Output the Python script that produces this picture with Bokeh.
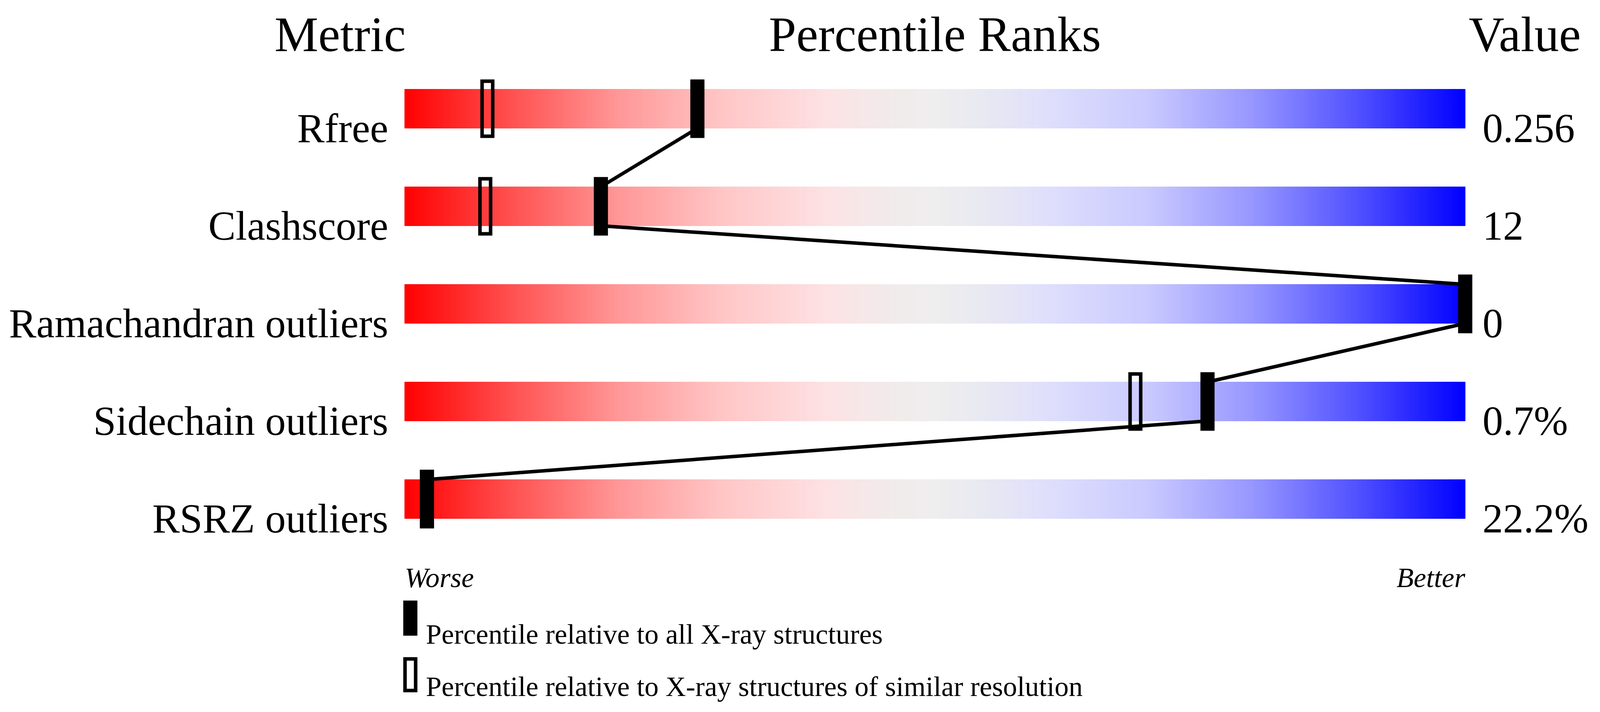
from bokeh.plotting import figure
from bokeh.models import Range1d, ColumnDataSource
from bokeh.core.properties import value
from bokeh.embed import file_html
from bokeh.resources import INLINE

# ---------------- data ----------------
metrics = ["Rfree", "Clashscore", "Ramachandran outliers", "Sidechain outliers", "RSRZ outliers"]
metric_values = ["0.256", "12", "0", "0.7%", "22.2%"]
pct_all_xray = [27.6, 18.5, 100, 75.7, 2.1]          # filled markers
pct_similar_res = [7.8, 7.6, 100, 68.9, 2.1]         # open markers (hidden where equal)
headers = ["Metric", "Percentile Ranks", "Value"]
scale_ends = ["Worse", "Better"]
legend_labels = ["Percentile relative to all X-ray structures",
                 "Percentile relative to X-ray structures of similar resolution"]

# gradient colour stops (styling)
grad_pos = [0, 10, 20, 30, 40, 45, 50, 55, 60, 70, 80, 90, 100]
grad_rgb = [(255, 0, 0), (255, 80, 80), (255, 150, 150), (255, 198, 198), (253, 226, 228),
            (242, 234, 234), (238, 238, 238), (232, 232, 242), (224, 224, 252),
            (202, 202, 255), (150, 150, 255), (80, 80, 255), (0, 0, 255)]

FONT = value("Liberation Serif")

def grad_color(t):
    for k in range(len(grad_pos) - 1):
        a, b = grad_pos[k], grad_pos[k + 1]
        if a <= t <= b:
            f = (t - a) / (b - a)
            c = [round(grad_rgb[k][j] + f * (grad_rgb[k + 1][j] - grad_rgb[k][j])) for j in range(3)]
            return "#%02x%02x%02x" % tuple(c)
    return "#%02x%02x%02x" % grad_rgb[-1]

# layout (horizontal scale chosen so the whole chart fits the visible page width)
S = 0.905
PX = 30 * S                       # screen px per percentile unit
W, H = 4090, 1808
X0 = -(1153 * S - 8) / PX
p = figure(width=W, height=H, x_range=Range1d(X0, X0 + W / PX), y_range=Range1d(6.12, -1.112),
           output_backend="svg", toolbar_location=None, min_border=0)
p.axis.visible = False
p.grid.visible = False
p.outline_line_color = None
p.background_fill_color = "white"
p.border_fill_color = "white"

rows = list(range(len(metrics)))
BAR_HALF = 0.2

# gradient bars
N = 400
lefts, rights, tops, bottoms, cols = [], [], [], [], []
for r in rows:
    for k in range(N):
        x0 = 100.0 * k / N
        x1 = 100.0 * (k + 1) / N
        lefts.append(x0)
        rights.append(x1)
        tops.append(r - BAR_HALF)
        bottoms.append(r + BAR_HALF)
        cols.append(grad_color((x0 + x1) / 2))
p.quad(left=lefts, right=rights, top=tops, bottom=bottoms, fill_color=cols, line_color=cols,
       line_width=1)

MW = 40 / 30          # marker width (percentile units)
LW = 9                # outline width (px)

# open markers (similar resolution)
src_res = ColumnDataSource(dict(x=pct_similar_res, y=rows))
p.rect(x="x", y="y", width=MW - LW / PX, height=(150 - LW) / 250, source=src_res,
       fill_color=None, line_color="black", line_width=LW, line_join="miter")

# connecting lines: bottom of bar i to top of bar i+1
p.segment(x0=pct_all_xray[:-1], y0=[r + BAR_HALF for r in rows[:-1]],
          x1=pct_all_xray[1:], y1=[r + 1 - BAR_HALF for r in rows[:-1]],
          line_color="black", line_width=9)

# filled markers (all X-ray)
src_all = ColumnDataSource(dict(x=pct_all_xray, y=rows))
p.rect(x="x", y="y", width=MW, height=150 / 250, source=src_all,
       fill_color="black", line_color=None)

# metric labels and values
p.text(x=[-1.55] * len(rows), y=[r + BAR_HALF for r in rows], text=metrics,
       text_font=FONT, text_font_size=value("105px"), text_align="right",
       text_baseline="alphabetic", text_color="black")
p.text(x=[101.63] * len(rows), y=[r + BAR_HALF for r in rows], text=metric_values,
       text_font=FONT, text_font_size=value("105px"), text_align="left",
       text_baseline="alphabetic", text_color="black")

# headers
p.text(x=[0.1, 50, 110.9], y=[-0.76, -0.76, -0.76], text=headers,
       text_font=FONT, text_font_size=value("126px"),
       text_align=["right", "center", "right"], text_baseline="alphabetic", text_color="black")

# worse / better
p.text(x=[0, 100], y=[4.804, 4.804], text=scale_ends, text_font=FONT,
       text_font_size=value("72px"), text_font_style="italic",
       text_align=["left", "right"], text_baseline="alphabetic", text_color="black")

# legend
p.rect(x=[0.533], y=[5.22], width=MW, height=90 / 250, fill_color="black", line_color=None)
p.rect(x=[0.533], y=[5.80], width=MW - LW / PX, height=(90 - LW) / 250, fill_color=None,
       line_color="black", line_width=LW, line_join="miter")
p.text(x=[2.0, 2.0], y=[5.384, 5.92], text=legend_labels, text_font=FONT,
       text_font_size=value("72px"), text_align="left", text_baseline="alphabetic",
       text_color="black")

open("out.html", "w").write(file_html(p, INLINE))
